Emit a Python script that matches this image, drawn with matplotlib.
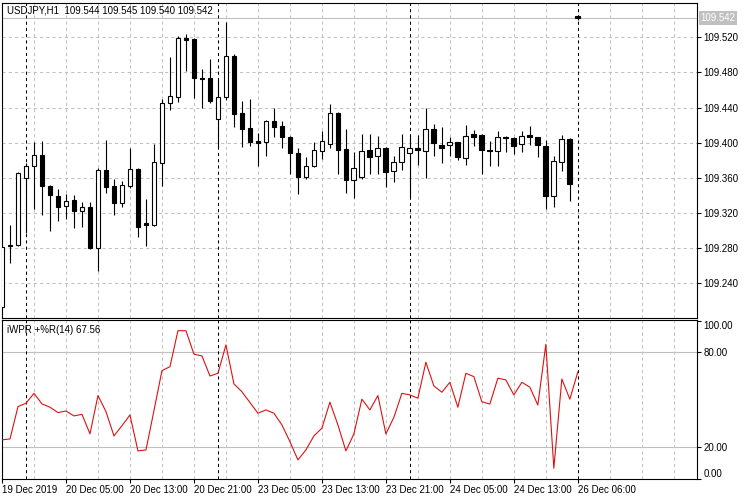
import matplotlib
matplotlib.use("Agg")
import matplotlib.pyplot as plt
import matplotlib.transforms as mtransforms
import numpy as np

# USDJPY H1 candles, bar 0 = 19 Dec 21:00
opens = [109.213, 109.282, 109.284, 109.360, 109.373, 109.386, 109.351, 109.339, 109.328, 109.335,
         109.322, 109.327, 109.280, 109.369, 109.351, 109.331, 109.351, 109.370, 109.309, 109.306,
         109.377, 109.445, 109.452, 109.519, 109.518, 109.474, 109.474, 109.427, 109.452, 109.499,
         109.434, 109.417, 109.402, 109.401, 109.425, 109.419, 109.407, 109.388, 109.361, 109.374,
         109.391, 109.399, 109.434, 109.393, 109.358, 109.361, 109.392, 109.385, 109.394, 109.368,
         109.378, 109.388, 109.394, 109.391, 109.416, 109.398, 109.398, 109.401, 109.383, 109.410,
         109.409, 109.392, 109.391, 109.407, 109.405, 109.399, 109.409, 109.406, 109.396, 109.339,
         109.378, 109.404, 109.544]
highs = [109.283, 109.306, 109.367, 109.377, 109.401, 109.402, 109.352, 109.347, 109.342, 109.340,
         109.333, 109.333, 109.371, 109.403, 109.359, 109.356, 109.394, 109.371, 109.336, 109.399,
         109.450, 109.498, 109.521, 109.524, 109.519, 109.484, 109.495, 109.471, 109.538, 109.501,
         109.448, 109.450, 109.411, 109.426, 109.440, 109.425, 109.408, 109.394, 109.384, 109.401,
         109.413, 109.444, 109.435, 109.416, 109.389, 109.410, 109.410, 109.408, 109.395, 109.385,
         109.410, 109.409, 109.409, 109.440, 109.421, 109.418, 109.406, 109.401, 109.420, 109.415,
         109.410, 109.402, 109.413, 109.408, 109.407, 109.413, 109.419, 109.407, 109.403, 109.385,
         109.409, 109.405, 109.545]
lows = [109.211, 109.263, 109.283, 109.297, 109.325, 109.318, 109.300, 109.311, 109.313, 109.303,
        109.304, 109.279, 109.254, 109.343, 109.318, 109.327, 109.348, 109.293, 109.282, 109.305,
        109.351, 109.437, 109.446, 109.482, 109.451, 109.440, 109.445, 109.394, 109.449, 109.418,
        109.395, 109.396, 109.374, 109.385, 109.406, 109.394, 109.364, 109.342, 109.359, 109.372,
        109.381, 109.394, 109.364, 109.343, 109.337, 109.359, 109.364, 109.365, 109.350, 109.355,
        109.369, 109.338, 109.375, 109.360, 109.385, 109.377, 109.385, 109.380, 109.375, 109.396,
        109.364, 109.374, 109.374, 109.390, 109.387, 109.390, 109.398, 109.384, 109.325, 109.327,
        109.368, 109.334, 109.540]
closes = [109.281, 109.284, 109.366, 109.374, 109.386, 109.351, 109.341, 109.327, 109.334, 109.322,
          109.327, 109.280, 109.369, 109.350, 109.331, 109.352, 109.370, 109.304, 109.306, 109.378,
          109.445, 109.453, 109.519, 109.517, 109.474, 109.472, 109.447, 109.452, 109.499, 109.433,
          109.416, 109.401, 109.400, 109.425, 109.418, 109.406, 109.388, 109.361, 109.374, 109.392,
          109.402, 109.434, 109.392, 109.358, 109.371, 109.391, 109.384, 109.394, 109.367, 109.378,
          109.395, 109.394, 109.392, 109.416, 109.400, 109.394, 109.401, 109.384, 109.408, 109.407,
          109.392, 109.391, 109.406, 109.405, 109.396, 109.408, 109.406, 109.397, 109.339, 109.379,
          109.404, 109.353, 109.542]

# iWPR +%R(14)
wpr = [24.5, 25.1, 45.6, 47.7, 54.0, 47.3, 45.2, 41.8, 42.8, 39.7,
       40.7, 28.3, 52.6, 42.4, 27.0, 33.5, 40.3, 17.5, 18.1, 43.0,
       68.4, 70.9, 93.7, 93.7, 78.8, 77.7, 65.0, 66.7, 84.7, 60.0,
       55.0, 48.2, 41.4, 43.5, 41.4, 34.0, 23.4, 11.8, 18.1, 27.0,
       31.9, 48.4, 34.0, 17.5, 28.3, 50.3, 43.5, 52.6, 28.3, 38.8,
       54.0, 53.0, 50.9, 73.7, 58.7, 54.7, 61.0, 45.2, 66.7, 64.6,
       48.7, 47.2, 63.6, 62.5, 53.0, 61.0, 57.9, 46.6, 85.1, 6.5,
       63.1, 50.3, 67.56]

price_ticks = [109.240, 109.280, 109.320, 109.360, 109.400, 109.440, 109.480, 109.520]
wpr_ticks = [0, 20, 80, 100]
wpr_levels = [20, 80]
bid = 109.542
day_breaks = [3, 27, 51, 72]
time_ticks = [0, 8, 16, 24, 32, 40, 48, 56, 64, 72]
time_labels = ["19 Dec 2019", "20 Dec 05:00", "20 Dec 13:00", "20 Dec 21:00", "23 Dec 05:00",
               "23 Dec 13:00", "23 Dec 21:00", "24 Dec 05:00", "24 Dec 13:00", "26 Dec 06:00"]

plt.rcParams['font.family'] = ['Liberation Sans', 'DejaVu Sans']
plt.rcParams['font.size'] = 7

W, H = 750, 500
fig = plt.figure(figsize=(7.5, 5), dpi=100)
ax = fig.add_axes([2 / W, 1 - 318.3 / H, 695 / W, (318.3 - 2.7) / H])
ax2 = fig.add_axes([2 / W, 1 - 479 / H, 695 / W, (479 - 320.3) / H])

x = np.arange(len(opens))
o = np.array(opens)
c = np.array(closes)
grid_c = '#c0c0c0'
dash = (0, (3, 3))

for a in (ax, ax2):
    a.set_xlim(0, 86.9)
    for i in range(4, 87, 4):
        if i not in day_breaks:
            a.axvline(i, color=grid_c, lw=0.75, ls=dash, zorder=0)
    for d in day_breaks:
        a.axvline(d, color='black', lw=0.75, ls=dash, zorder=1)
    for s in a.spines.values():
        s.set_color('black')
        s.set_linewidth(0.8)

# price panel
for p in price_ticks:
    ax.axhline(p, color=grid_c, lw=0.75, ls=dash, zorder=0)
ax.axhline(bid, color=grid_c, lw=0.8, zorder=0)

ax.vlines(x, lows, highs, color='black', lw=0.8, zorder=2)
ax.bar(x, np.abs(c - o), width=0.6, bottom=np.minimum(o, c),
       color=np.where(c >= o, 'white', 'black'), edgecolor='black', linewidth=0.8, zorder=3)

ax.set_ylim(109.2002, 109.5594)
ax.set_xticks([])
ax.set_yticks(price_ticks)
ax.set_yticklabels([f"{p:.3f}" for p in price_ticks])
ax.tick_params(axis='y', left=False, labelleft=False, right=True, labelright=True,
               length=3, width=0.8, pad=1.5)

tr = mtransforms.blended_transform_factory(ax.transAxes, ax.transData)
ax.text(1.005, bid, f"{bid:.3f}", transform=tr, ha='left', va='center', color='white',
        bbox=dict(facecolor=grid_c, edgecolor='none', pad=1.2))
ax.annotate("USDJPY,H1  109.544 109.545 109.540 109.542", xy=(0, 1), xycoords='axes fraction',
            xytext=(5, -3), textcoords='offset pixels', ha='left', va='top')

# indicator panel
for lv in wpr_levels:
    ax2.axhline(lv, color=grid_c, lw=0.8, zorder=0)
ax2.plot(x, wpr, color='#dd1111', lw=0.8, zorder=3)
ax2.set_ylim(-0.3, 100.3)
ax2.set_yticks(wpr_ticks)
ax2.set_yticklabels([f"{v:.2f}" for v in wpr_ticks])
ax2.tick_params(axis='y', left=False, labelleft=False, right=True, labelright=True,
                length=3, width=0.8, pad=1.5)
for lbl in ax2.get_yticklabels():
    if lbl.get_text() == "100.00":
        lbl.set_va('top')
    elif lbl.get_text() == "0.00":
        lbl.set_va('bottom')

ax2.set_xticks(time_ticks)
ax2.set_xticklabels(time_labels)
ax2.tick_params(axis='x', length=3, width=0.8, pad=1.5)
for lbl in ax2.get_xticklabels():
    lbl.set_ha('left')

ax2.annotate("iWPR +%R(14) 67.56", xy=(0, 1), xycoords='axes fraction',
             xytext=(5, -5), textcoords='offset pixels', ha='left', va='top')

fig.savefig("out.png", dpi=100, facecolor='white')
